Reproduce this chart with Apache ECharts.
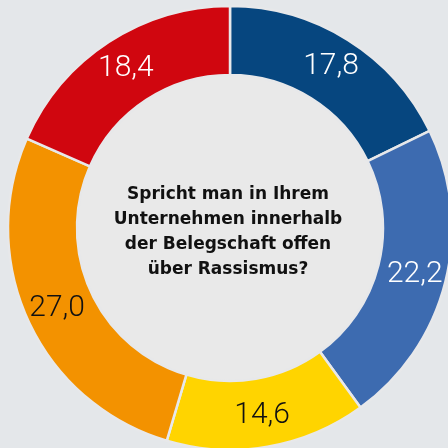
<!DOCTYPE html>
<html>
<head>
<meta charset="utf-8">
<script src="https://cdn.jsdelivr.net/npm/echarts@6/dist/echarts.min.js"></script>
<style>
  html, body { margin: 0; padding: 0; background: #e4e7ea; }
  #chart { width: 448px; height: 448px; }
</style>
</head>
<body>
<div id="chart"></div>
<script>
// Anteile in Prozent, im Uhrzeigersinn ab 12 Uhr
var categories = ['A', 'B', 'C', 'D', 'E']
var values = [17.8, 22.2, 14.6, 27.0, 18.4]
var colors = ['#06467f', '#3d6bb0', '#ffd400', '#f39200', '#d0060f']
var labelColors = ['#ffffff', '#ffffff', '#111111', '#111111', '#ffffff']
var question = 'Spricht man in Ihrem\nUnternehmen innerhalb\nder Belegschaft offen\nüber Rassismus?'

var chart = echarts.init(document.getElementById('chart'))

var pieData = []
for (var i = 0; i < values.length; i++) {
  pieData.push({
    name: categories[i],
    value: values[i],
    itemStyle: { color: colors[i] },
    label: { color: labelColors[i] }
  })
}

chart.setOption({
  backgroundColor: '#e4e7ea',
  animation: false,
  series: [
    {
      // heller Innenkreis
      type: 'pie',
      center: [230, 228],
      radius: [0, 153],
      silent: true,
      z: 1,
      label: { show: false },
      itemStyle: { color: '#e9e9e9' },
      data: [1]
    },
    {
      type: 'pie',
      center: [230, 228],
      radius: [153, 222],
      startAngle: 90,
      clockwise: true,
      z: 2,
      itemStyle: {
        borderColor: '#e7e8ea',
        borderWidth: 2.5
      },
      label: {
        show: true,
        position: 'inside',
        fontFamily: 'Roboto',
        fontWeight: 300,
        fontSize: 30,
        padding: [0, 0, 6, 0],
        formatter: function (p) {
          return p.value.toFixed(1).replace('.', ',')
        }
      },
      labelLine: { show: false },
      data: pieData
    }
  ],
  graphic: [
    {
      type: 'text',
      x: 228,
      y: 232,
      z: 10,
      style: {
        text: question,
        textAlign: 'center',
        textVerticalAlign: 'middle',
        fontFamily: 'DejaVu Sans',
        fontWeight: 'bold',
        fontSize: 17,
        lineHeight: 25,
        fill: '#111111'
      }
    }
  ]
})
</script>
</body>
</html>
